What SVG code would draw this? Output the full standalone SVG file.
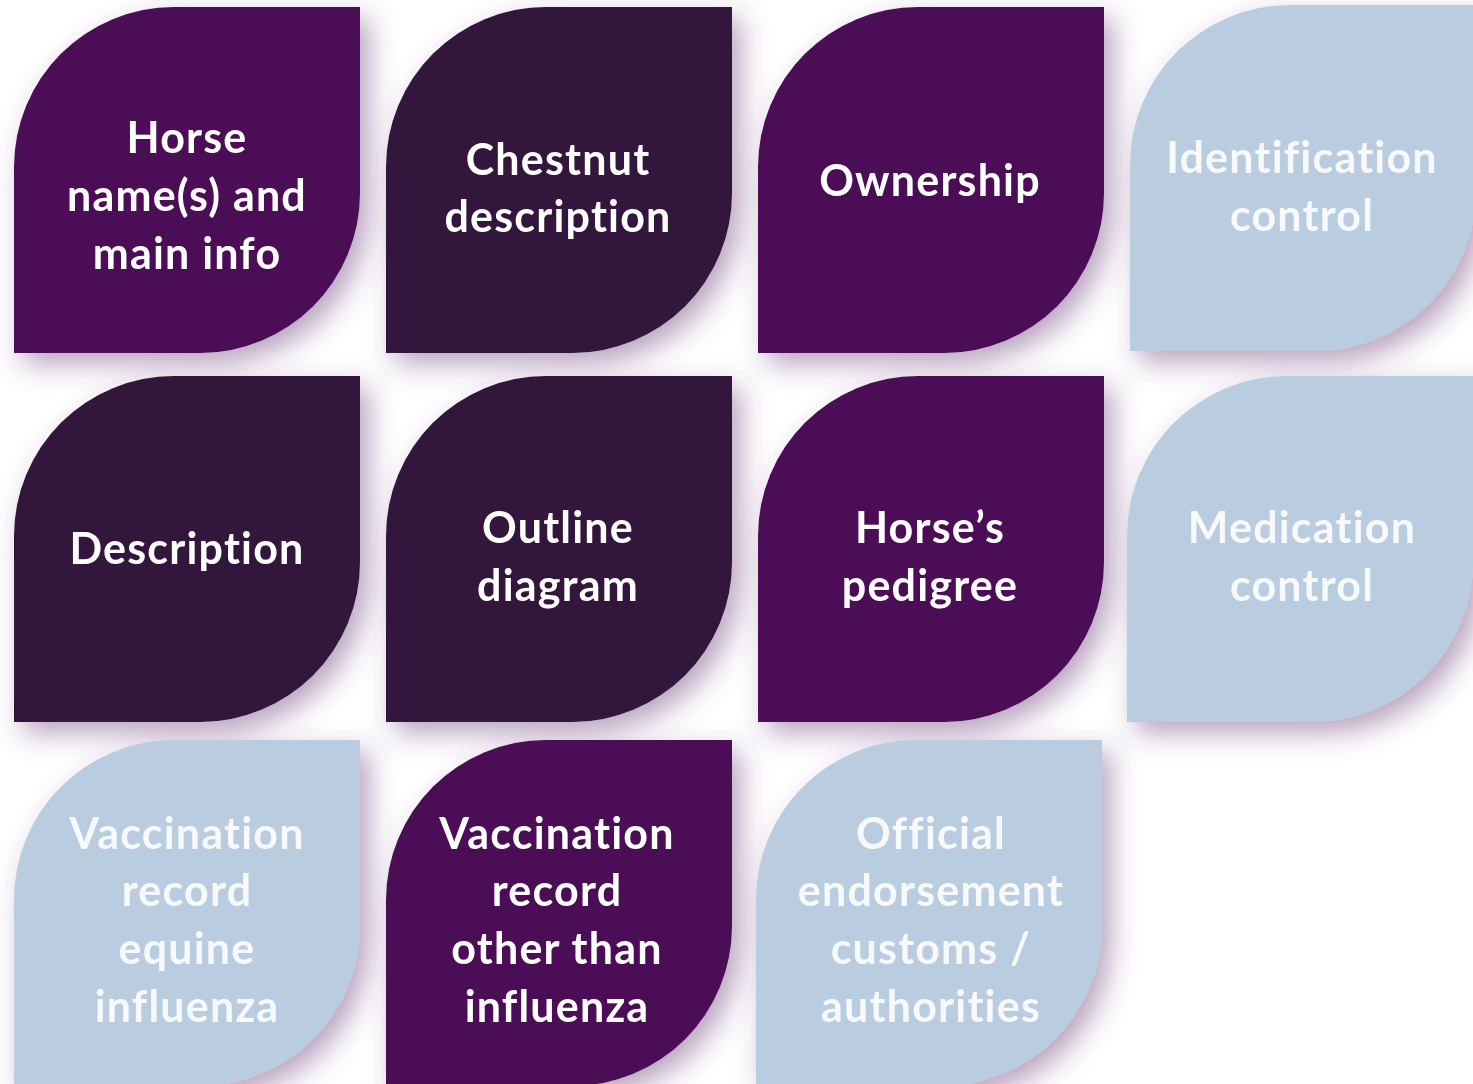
<svg xmlns="http://www.w3.org/2000/svg" xmlns:xlink="http://www.w3.org/1999/xlink" width="1473" height="1084" viewBox="0 0 1473 1084">
<defs>
<filter id="sh" x="-25%" y="-25%" width="160%" height="160%">
<feGaussianBlur in="SourceAlpha" stdDeviation="14"/>
<feOffset dx="9" dy="11" result="b"/>
<feFlood flood-color="#6b3a7a" flood-opacity="0.48"/>
<feComposite in2="b" operator="in" result="s"/>
<feMerge><feMergeNode in="s"/><feMergeNode in="SourceGraphic"/></feMerge>
</filter>
<path id="leaf" d="M160,0 H346 V186 A160,160 0 0 1 186,346 H0 V160 A160,160 0 0 1 160,0 Z"/>
</defs>
<style>
.p{fill:#4b0b55}
.d{fill:#32143a}
.l{fill:#b9cce0}
text{font-family:Lato,"Open Sans","Liberation Sans",sans-serif;font-weight:bold;font-size:43px;letter-spacing:1.2px;font-variant-ligatures:none;text-anchor:middle}
.tw{fill:#ffffff}
.tl{fill:#f7f9fc}
</style>
<rect width="1473" height="1084" fill="#ffffff"/>
<g id="connectors"/>
<g id="n1" filter="url(#sh)"><use xlink:href="#leaf" class="p" transform="translate(14,7)"/>
<text class="tw"><tspan x="187" y="153">Horse</tspan><tspan x="187" y="211">name(s) and</tspan><tspan x="187" y="269">main info</tspan></text></g>
<g id="n2" filter="url(#sh)"><use xlink:href="#leaf" class="d" transform="translate(386,7)"/>
<text class="tw"><tspan x="558" y="175">Chestnut</tspan><tspan x="558" y="232">description</tspan></text></g>
<g id="n3" filter="url(#sh)"><use xlink:href="#leaf" class="p" transform="translate(758,7)"/>
<text class="tw"><tspan x="930" y="196">Ownership</tspan></text></g>
<g id="n4" filter="url(#sh)"><use xlink:href="#leaf" class="l" transform="translate(1130,5)"/>
<text class="tl"><tspan x="1302" y="173">Identification</tspan><tspan x="1302" y="231">control</tspan></text></g>
<g id="n5" filter="url(#sh)"><use xlink:href="#leaf" class="d" transform="translate(14,376)"/>
<text class="tw"><tspan x="187" y="564">Description</tspan></text></g>
<g id="n6" filter="url(#sh)"><use xlink:href="#leaf" class="d" transform="translate(386,376)"/>
<text class="tw"><tspan x="558" y="543">Outline</tspan><tspan x="558" y="601">diagram</tspan></text></g>
<g id="n7" filter="url(#sh)"><use xlink:href="#leaf" class="p" transform="translate(758,376)"/>
<text class="tw"><tspan x="930" y="543">Horse’s</tspan><tspan x="930" y="601">pedigree</tspan></text></g>
<g id="n8" filter="url(#sh)"><use xlink:href="#leaf" class="l" transform="translate(1127,376)"/>
<text class="tl"><tspan x="1302" y="543">Medication</tspan><tspan x="1302" y="601">control</tspan></text></g>
<g id="n9" filter="url(#sh)"><use xlink:href="#leaf" class="l" transform="translate(14,740)"/>
<text class="tl"><tspan x="187" y="849">Vaccination</tspan><tspan x="187" y="906">record</tspan><tspan x="187" y="964">equine</tspan><tspan x="187" y="1022">influenza</tspan></text></g>
<g id="n10" filter="url(#sh)"><use xlink:href="#leaf" class="p" transform="translate(386,740)"/>
<text class="tw"><tspan x="557" y="849">Vaccination</tspan><tspan x="557" y="906">record</tspan><tspan x="557" y="964">other than</tspan><tspan x="557" y="1022">influenza</tspan></text></g>
<g id="n11" filter="url(#sh)"><use xlink:href="#leaf" class="l" transform="translate(756,740)"/>
<text class="tl"><tspan x="931" y="849">Official</tspan><tspan x="931" y="906">endorsement</tspan><tspan x="931" y="964">customs /</tspan><tspan x="931" y="1022">authorities</tspan></text></g>
</svg>
